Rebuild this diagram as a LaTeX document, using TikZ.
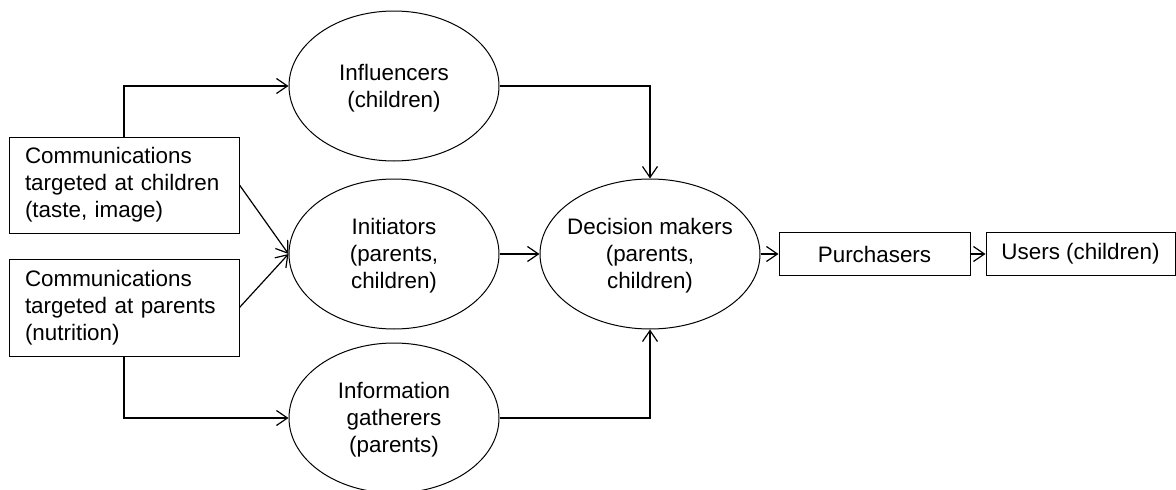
\documentclass[tikz,border=0pt]{standalone}
\usepackage{fontspec}
\setmainfont{Liberation Sans}
\usetikzlibrary{shapes.geometric,arrows.meta}
\begin{document}
\begin{tikzpicture}[x=1pt,y=-1pt,
  font=\fontsize{22.4}{27}\selectfont,
  box/.style={draw,line width=1pt,rectangle,inner sep=0pt},
  commbox/.style={box,minimum width=230pt,minimum height=96pt,
    text width=198pt,align=left},
  oval/.style={draw,line width=1pt,ellipse,minimum width=210pt,minimum height=150pt,inner sep=0pt},
  label/.style={align=center,inner sep=0pt},
  conn/.style={line width=1.2pt,-{Straight Barb[length=11pt,width=15pt,line width=1.2pt]}}]
\useasboundingbox (0,0) rectangle (1176,490);

% communication boxes on the left
\node[commbox] (cc) at (124,185) {Communications\\targeted at children\\(taste, image)};
\node[commbox,minimum height=97pt] (cp) at (124,307.5) {Communications\\targeted at parents\\(nutrition)};

% roles in the buying centre
\node[oval] (infl) at (394,86) {};
\node[label] (inflT) at (394,88) {Influencers\\(children)};
\node[oval] (init) at (394,254) {};
\node[label] (initT) at (394,256) {Initiators\\(parents,\\children)};
\node[oval] (info) at (394,418) {};
\node[label] (infoT) at (394,420) {Information\\gatherers\\(parents)};
\node[oval,minimum width=220pt] (dec) at (650,254) {};
\node[label] (decT) at (650,256) {Decision makers\\(parents,\\children)};

% purchase chain
\node[box,minimum width=191pt,minimum height=43pt] (pur) at (874.5,254) {Purchasers};
\node[box,minimum width=189pt,minimum height=43pt] (usr) at (1080.5,254) {Users (children)};

% connectors
\draw[conn] (cc.north) |- (infl.west);
\draw[conn] (cp.south) |- (info.west);
\draw[conn] (cc.east) -- (init.west);
\draw[conn] (cp.east) -- (init.west);
\draw[conn] (init.east) -- (dec.west);
\draw[conn] (infl.east) -| (dec.north);
\draw[conn] (info.east) -| (dec.south);
\draw[conn] (dec.east) -- (pur.west);
\draw[conn] (pur.east) -- (usr.west);
\end{tikzpicture}
\end{document}
